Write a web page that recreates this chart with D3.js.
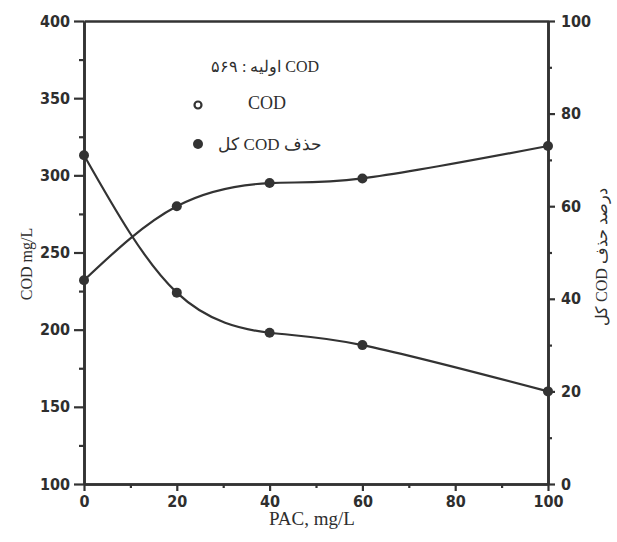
<!DOCTYPE html>
<html>
<head>
<meta charset="utf-8">
<script src="https://cdn.jsdelivr.net/npm/d3@7"></script>
<style>
  html, body { margin: 0; padding: 0; background: #fff; }
  svg { display: block; }
  .tick-lbl { font-family: "DejaVu Sans Condensed", "DejaVu Sans", sans-serif; font-stretch: condensed; font-weight: bold; font-size: 16px; fill: #2e2e2e; }
  .serif { font-family: "Liberation Serif", "DejaVu Serif", serif; fill: #2e2e2e; }
</style>
</head>
<body>
<script>
// ---- data ----
const pac = [0, 20, 40, 60, 100];
const codValues = [313, 224, 198, 190, 160];        // COD mg/L (left axis)
const removalValues = [44, 60, 65, 66, 73];          // درصد حذف COD کل (right axis)
const xTicks = [0, 20, 40, 60, 80, 100];
const xMinorTicks = [10, 30, 50, 70, 90];
const leftTicks = [100, 150, 200, 250, 300, 350, 400];
const leftMinorTicks = [125, 175, 225, 275, 325, 375];
const rightTicks = [0, 20, 40, 60, 80, 100];
const rightMinorTicks = [10, 30, 50, 70, 90];
const legendTitle = "COD اولیه : ۵۶۹";
const legendLabels = ["COD", "حذف COD کل"];
const xTitle = "PAC, mg/L";
const yLeftTitle = "COD mg/L";
const yRightTitle = "درصد حذف COD کل";

const W = 617, H = 542;
const m = { left: 84, right: 548, top: 21, bottom: 484 };
const ink = "#333";

const svg = d3.select("body").append("svg").attr("width", W).attr("height", H);
svg.append("rect").attr("width", W).attr("height", H).attr("fill", "#fff");

const x = d3.scaleLinear().domain([0, 100]).range([m.left, m.right]);
const yL = d3.scaleLinear().domain([100, 400]).range([m.bottom, m.top]);
const yR = d3.scaleLinear().domain([0, 100]).range([m.bottom, m.top]);

// bottom axis
svg.append("g").attr("transform", `translate(0,${m.bottom})`)
  .call(d3.axisBottom(x).tickValues(xTicks).tickSize(7).tickSizeOuter(0).tickPadding(5));
svg.append("g").attr("transform", `translate(0,${m.bottom})`)
  .call(d3.axisBottom(x).tickValues(xMinorTicks).tickSize(4).tickSizeOuter(0).tickFormat(""));
// left axis
svg.append("g").attr("transform", `translate(${m.left},0)`)
  .call(d3.axisLeft(yL).tickValues(leftTicks).tickSize(10).tickSizeOuter(0).tickPadding(4));
svg.append("g").attr("transform", `translate(${m.left},0)`)
  .call(d3.axisLeft(yL).tickValues(leftMinorTicks).tickSize(5).tickSizeOuter(0).tickFormat(""));
// right axis
svg.append("g").attr("transform", `translate(${m.right},0)`)
  .call(d3.axisRight(yR).tickValues(rightTicks).tickSize(7).tickSizeOuter(0).tickPadding(6));
svg.append("g").attr("transform", `translate(${m.right},0)`)
  .call(d3.axisRight(yR).tickValues(rightMinorTicks).tickSize(4).tickSizeOuter(0).tickFormat(""));
// top axis line
svg.append("g").attr("transform", `translate(0,${m.top})`)
  .call(d3.axisTop(x).tickValues([]).tickSizeOuter(0));

svg.selectAll(".domain").attr("stroke", ink).attr("stroke-width", 2.6);
svg.selectAll(".tick line").attr("stroke", ink).attr("stroke-width", 2.2);
svg.selectAll(".tick text").attr("class", "tick-lbl").attr("fill", "#2e2e2e");

// axis titles
svg.append("text").attr("class", "serif")
  .attr("transform", `translate(32,264) rotate(-90)`)
  .attr("text-anchor", "middle").attr("font-size", 16).text(yLeftTitle);
svg.append("text").attr("class", "serif")
  .attr("transform", `translate(607,257) rotate(-90)`)
  .attr("text-anchor", "middle").attr("font-size", 16)
  .style("direction", "rtl").style("unicode-bidi", "embed")
  .text(yRightTitle);
svg.append("text").attr("class", "serif")
  .attr("x", 312).attr("y", 525)
  .attr("text-anchor", "middle").attr("font-size", 19).text(xTitle);

// lines
const curve = d3.curveNatural;
const codPts = pac.map((p, i) => [x(p), yL(codValues[i])]);
const remPts = pac.map((p, i) => [x(p), yR(removalValues[i])]);
const line = d3.line().curve(curve);
svg.append("path").attr("d", line(codPts)).attr("fill", "none").attr("stroke", ink).attr("stroke-width", 2.2);
svg.append("path").attr("d", line(remPts)).attr("fill", "none").attr("stroke", ink).attr("stroke-width", 2.2);
svg.selectAll(".pc").data(codPts).join("circle").attr("cx", d => d[0]).attr("cy", d => d[1]).attr("r", 5).attr("fill", ink);
svg.selectAll(".pr").data(remPts).join("circle").attr("cx", d => d[0]).attr("cy", d => d[1]).attr("r", 5).attr("fill", ink);

// legend
svg.append("text").attr("class", "serif")
  .attr("x", 265).attr("y", 72).attr("text-anchor", "middle").attr("font-size", 16)
  .style("direction", "rtl").style("unicode-bidi", "embed")
  .text(legendTitle);
svg.append("circle").attr("cx", 198).attr("cy", 105).attr("r", 3.5).attr("fill", "#fff").attr("stroke", ink).attr("stroke-width", 2.2);
svg.append("text").attr("class", "serif")
  .attr("x", 267).attr("y", 109).attr("text-anchor", "middle").attr("font-size", 18).text(legendLabels[0]);
svg.append("circle").attr("cx", 198).attr("cy", 144).attr("r", 5).attr("fill", ink);
svg.append("text").attr("class", "serif")
  .attr("x", 270).attr("y", 150).attr("text-anchor", "middle").attr("font-size", 17)
  .style("direction", "rtl").style("unicode-bidi", "embed")
  .text(legendLabels[1]);
</script>
</body>
</html>
